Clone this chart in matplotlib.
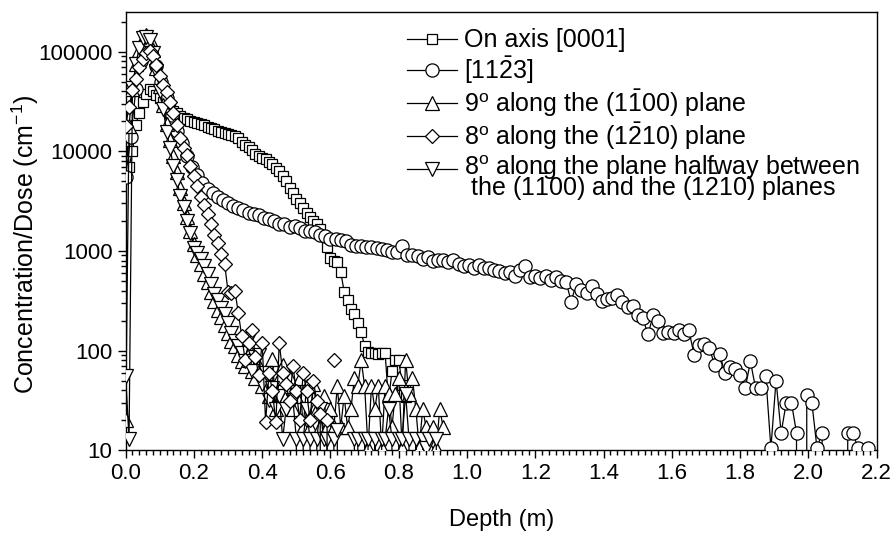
import numpy as np
import matplotlib
matplotlib.use('Agg')
import matplotlib.pyplot as plt
from matplotlib.ticker import FixedLocator, MultipleLocator, LogLocator, NullFormatter, FuncFormatter
from matplotlib.legend_handler import HandlerLine2D
from matplotlib.transforms import Affine2D

plt.rcParams['font.family'] = ['Liberation Sans', 'DejaVu Sans']
plt.rcParams['mathtext.fontset'] = 'custom'
plt.rcParams['mathtext.rm'] = 'Liberation Sans'
plt.rcParams['mathtext.it'] = 'Liberation Sans:italic'
plt.rcParams['mathtext.bf'] = 'Liberation Sans:bold'

##### data (depth in um, concentration/dose in cm^-1, 0 = below detection)

# on axis [0001], squares, depth 0.01 .. 0.82 every 0.01
sq_start, sq_step = 0.01, 0.01
sq_conc = [7000, 10000, 18500, 24500, 31000, 38000, 42000, 40000, 37000, 34000,
           31000, 29000, 27000, 25500, 24000, 22800, 21800, 21000, 20300, 19700,
           19300, 18800, 18200, 17600, 17100, 16600, 16100, 15700, 15300, 15000,
           14600, 14100, 13600, 12400, 11700, 11100, 10400, 9500, 9000, 8600,
           8300, 7900, 7500, 6800, 6300, 5600, 5000, 4300, 3800, 3300,
           3000, 2700, 2400, 2200, 2000, 1850, 1650, 1400, 1100, 850,
           800, 780, 620, 390, 320, 260, 235, 190, 155, 110,
           97, 95, 95, 93, 95, 95, 31, 62, 80, 80,
           45, 34]

# [11-23], circles, depth 0.0 .. 2.175 every 0.015
ci_start, ci_step = 0.0, 0.015
ci_conc = [5500, 14000, 42000, 80000, 115000, 100000, 72000, 50000, 34000, 23000,
           16000, 12000, 9000, 7000, 5800, 4800, 4200, 3800, 3500, 3250,
           3050, 2850, 2700, 2550, 2420, 2350, 2300, 2150, 2080, 2000,
           1850, 1850, 1750, 1760, 1700, 1600, 1580, 1550, 1450, 1420,
           1330, 1320, 1300, 1250, 1150, 1130, 1120, 1100, 1090, 1060,
           1040, 1020, 970, 980, 1120, 920, 920, 880, 830, 860,
           790, 815, 815, 770, 820, 740, 700, 730, 680, 725,
           670, 670, 645, 635, 600, 620, 565, 640, 700, 550,
           565, 530, 565, 515, 550, 500, 490, 310, 470, 410,
           380, 440, 370, 315, 330, 340, 360, 305, 275, 280,
           230, 210, 145, 225, 200, 150, 155, 150, 160, 148,
           160, 90, 115, 116, 105, 72, 92, 60, 68, 66,
           57, 42, 78, 42, 42, 55, 10.5, 50, 15, 30,
           30, 15, 0, 36, 30, 10.5, 15, 0, 0, 0,
           0, 15, 15, 10.5, 0, 10.5]

# 9 deg along (1-100), up triangles, depth 0.0 .. 0.93 every 0.01
tr_start, tr_step = 0.0, 0.01
tr_conc = [20, 18000, 42000, 75000, 105000, 135000, 148000, 135000, 103000, 68000,
           45000, 29000, 19000, 13000, 9000, 6200, 4300, 3050, 2200, 1600,
           1170, 915, 745, 590, 490, 390, 315, 255, 215, 182,
           150, 126, 110, 90, 78, 70, 80, 63, 53, 70,
           44, 60, 35, 83, 26, 53, 72, 35, 53, 26,
           35, 53, 17, 44, 17, 46, 26, 17, 35, 17,
           26, 17, 44, 17, 35, 17, 26, 53, 44, 80,
           44, 10.5, 44, 26, 44, 10.5, 44, 37, 17, 37,
           53, 10.5, 80, 37, 53, 26, 10.5, 26, 17, 10.5,
           17, 10.5, 26, 17]

# 8 deg along (1-210), diamonds, depth 0.0 .. 0.61 every 0.01
di_start, di_step = 0.0, 0.01
di_conc = [18000, 28000, 41000, 53000, 70000, 85000, 96000, 102000, 90000, 74000,
           57000, 46000, 39000, 31000, 24500, 18500, 13500, 10700, 9200, 7100,
           5700, 4500, 3500, 2900, 2350, 1850, 1430, 1200, 940, 740,
           390, 380, 400, 240, 140, 80, 118, 162, 86, 57,
           120, 19, 60, 39, 19, 120, 60, 46, 31, 70,
           39, 20, 60, 39, 20, 49, 31, 23, 0, 20,
           np.nan, 80]

# 8 deg halfway between the planes, down triangles, depth 0.0 .. 0.91 every 0.01
iv_start, iv_step = 0.0, 0.01
iv_conc = [55, 13, 43000, 75000, 110000, 138000, 142000, 132000, 98000, 64000,
           40000, 26500, 15800, 10700, 7100, 5100, 3600, 2750, 1980, 1500,
           1080, 955, 825, 700, 580, 465, 370, 325, 265, 235,
           190, 150, 126, 110, 94, 78, 130, 63, 86, 90,
           46, 60, 32, 42, 26, 35, 13, 26, 36, 32,
           13, 0, 13, 26, 13, 0, 13, 26, 13, 13,
           0, 13, 16, 0, 0, 0, 0, 13, 13, 0,
           13, 13, 0, 13, 0, 13, 13, 26, 13, 0,
           13, 13, 37, 13, 0, 13, 0, 13, 10.5, 13,
           0, 13]

labels = ['On axis [0001]',
          r'[11$\mathrm{\bar{2}}$3]',
          r'9$^{\mathrm{o}}$ along the (1$\mathrm{\bar{1}}$00) plane',
          r'8$^{\mathrm{o}}$ along the (1$\mathrm{\bar{2}}$10) plane',
          r'8$^{\mathrm{o}}$ along the plane halfway between' + '\n' +
          r' the (1$\mathrm{\bar{1}}$00) and the (1$\mathrm{\bar{2}}$10) planes']

series = [(sq_start, sq_step, sq_conc, 's', 7.5, 2),
          (ci_start, ci_step, ci_conc, 'o', 9.5, 3),
          (tr_start, tr_step, tr_conc, '^', 9.5, 4),
          (di_start, di_step, di_conc, 'D', 7.0, 6),
          (iv_start, iv_step, iv_conc, 'v', 9.5, 5)]


# legend handle for the two-line entry sits level with its first line
class FirstLineHandler(HandlerLine2D):
    def __init__(self, shift, **kw):
        HandlerLine2D.__init__(self, **kw)
        self.shift = shift

    def create_artists(self, legend, orig_handle, xdescent, ydescent,
                       width, height, fontsize, trans):
        arts = HandlerLine2D.create_artists(self, legend, orig_handle, xdescent,
                                            ydescent, width, height, fontsize, trans)
        for a in arts:
            a.set_transform(trans + Affine2D().translate(0, self.shift))
        return arts


##### plot
fig = plt.figure(figsize=(8.91, 5.47), dpi=100)
ax = fig.add_axes([0.141, 0.177, 0.843, 0.801])

lines = []
for (start, step, conc, mk, ms, z), lab in zip(series, labels):
    conc = np.array(conc, dtype=float)
    depth = start + step * np.arange(len(conc))
    ln, = ax.plot(depth, conc, color='black', lw=0.9, marker=mk, ms=ms,
                  mfc='white', mec='black', mew=0.9, label=lab, zorder=z)
    lines.append(ln)

ax.set_yscale('log')
ax.set_xlim(0, 2.2)
ax.set_ylim(10, 2.5e5)

ax.xaxis.set_major_locator(MultipleLocator(0.2))
ax.xaxis.set_minor_locator(MultipleLocator(0.02))
ax.xaxis.set_major_formatter(FuncFormatter(lambda v, p: '%.1f' % v))
ax.yaxis.set_major_locator(FixedLocator([10, 100, 1000, 10000, 100000]))
ax.yaxis.set_minor_locator(LogLocator(base=10, subs=np.arange(2, 10)))
ax.yaxis.set_major_formatter(FuncFormatter(lambda v, p: '%d' % v))
ax.yaxis.set_minor_formatter(NullFormatter())

ax.tick_params(which='major', direction='out', length=6, width=1, labelsize=16)
ax.tick_params(which='minor', direction='out', length=3.5, width=1)
ax.tick_params(top=False, right=False)
for s in ax.spines.values():
    s.set_linewidth(1)

ax.set_xlabel('Depth (m)', fontsize=17, labelpad=18)
ax.set_ylabel('Concentration/Dose (cm$^{-1}$)', fontsize=18)
ax.yaxis.set_label_coords(-0.113, 0.47)

leg = ax.legend(loc='upper right', frameon=False, fontsize=18, handlelength=2.0,
                handletextpad=0.3, labelspacing=0.06, borderaxespad=0.25,
                handler_map={lines[4]: FirstLineHandler(10)})
for t in leg.get_texts():
    t.set_linespacing(0.55)

plt.savefig('out.png', dpi=100)
